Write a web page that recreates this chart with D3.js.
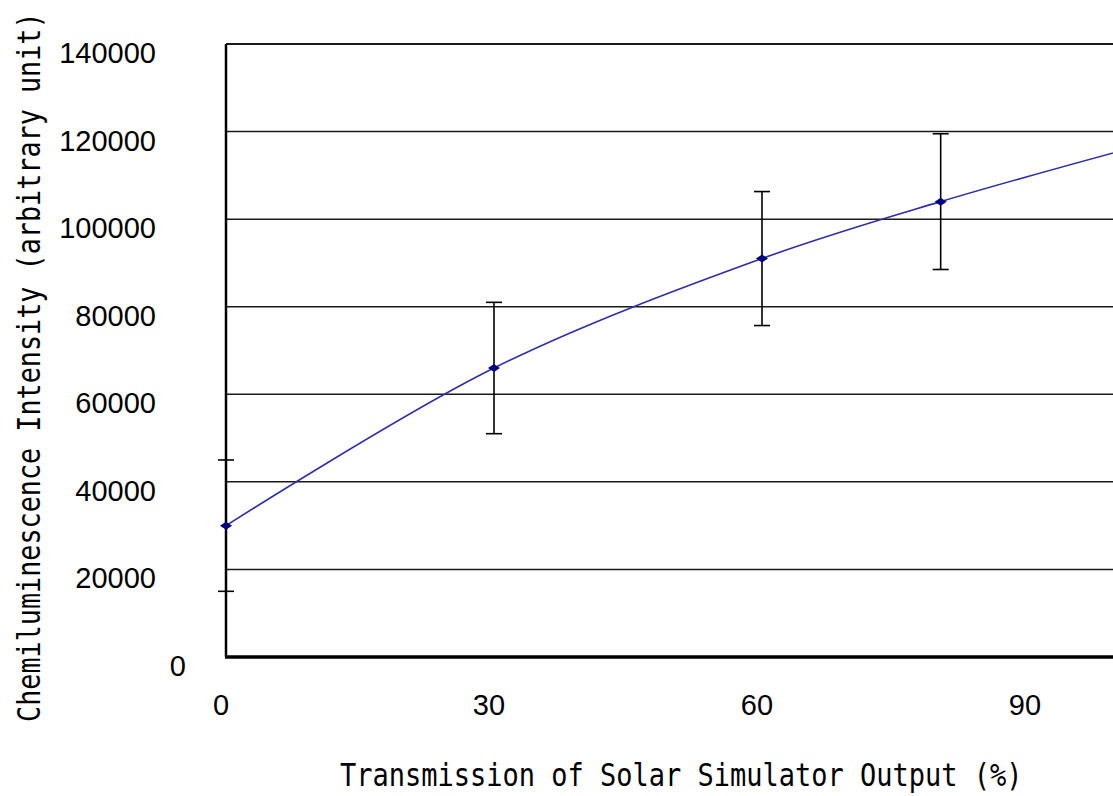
<!DOCTYPE html>
<html><head><meta charset="utf-8">
<script src="https://cdn.jsdelivr.net/npm/d3@7"></script>
<style>html,body{margin:0;padding:0;background:#fff;overflow:hidden}</style>
</head><body>
<svg id="c" width="1113" height="796"></svg>
<script>
const xValues = [0, 30, 60, 80, 100];
const yValues = [30000, 66000, 91000, 104000, 115500];
const yErrors = [15000, 15000, 15300, 15500, 15500];
const xTicks = [0, 30, 60, 90];
const yTicks = [0, 20000, 40000, 60000, 80000, 100000, 120000, 140000];
const xTitle = "Transmission of Solar Simulator Output (%)";
const yTitle = "Chemiluminescence Intensity (arbitrary unit)";

const W = 1113, H = 796;
const svg = d3.select("#c");
svg.append("rect").attr("width", W).attr("height", H).attr("fill", "#fff");

const x = d3.scaleLinear().domain([0, 90]).range([226, 1030]);
const y = d3.scaleLinear().domain([0, 140000]).range([657, 44]);

// gridlines
svg.append("g").selectAll("line").data(yTicks.filter(d => d > 0)).join("line")
  .attr("x1", x(0)).attr("x2", W)
  .attr("y1", d => y(d)).attr("y2", d => y(d))
  .attr("stroke", "#1a1a1a").attr("stroke-width", d => d === 140000 ? 2 : 1.5);

// y tick labels
svg.append("g").selectAll("text").data(yTicks).join("text")
  .attr("x", d => d === 0 ? 186 : 156)
  .attr("y", d => y(d) + 19)
  .attr("text-anchor", "end")
  .attr("font-family", "Liberation Sans, Arial, sans-serif")
  .attr("font-size", 29)
  .attr("fill", "#000")
  .text(d => d);

// x tick labels
svg.append("g").selectAll("text").data(xTicks).join("text")
  .attr("x", d => x(d) - 5)
  .attr("y", 715)
  .attr("text-anchor", "middle")
  .attr("font-family", "Liberation Sans, Arial, sans-serif")
  .attr("font-size", 29)
  .attr("fill", "#000")
  .text(d => d);

// axes lines
svg.append("line").attr("x1", x(0)).attr("x2", x(0)).attr("y1", y(140000)).attr("y2", y(0))
  .attr("stroke", "#000").attr("stroke-width", 2.5);
svg.append("line").attr("x1", x(0) - 1).attr("x2", W).attr("y1", y(0)).attr("y2", y(0))
  .attr("stroke", "#000").attr("stroke-width", 3.5);

const pts = xValues.map((v, i) => ({x: v, y: yValues[i], e: yErrors[i]}));
const visible = pts.filter(d => x(d.x) + 8 < W);

// error bars
const eb = svg.append("g").attr("stroke", "#000").attr("stroke-width", 1.6);
eb.selectAll(".v").data(visible).join("line").attr("class", "v")
  .attr("x1", d => x(d.x)).attr("x2", d => x(d.x))
  .attr("y1", d => y(d.y + d.e)).attr("y2", d => y(d.y - d.e));
eb.selectAll(".t").data(visible).join("line").attr("class", "t")
  .attr("x1", d => x(d.x) - 8).attr("x2", d => x(d.x) + 8)
  .attr("y1", d => y(d.y + d.e)).attr("y2", d => y(d.y + d.e));
eb.selectAll(".b").data(visible).join("line").attr("class", "b")
  .attr("x1", d => x(d.x) - 8).attr("x2", d => x(d.x) + 8)
  .attr("y1", d => y(d.y - d.e)).attr("y2", d => y(d.y - d.e));

// smoothed line
const line = d3.line().x(d => x(d.x)).y(d => y(d.y)).curve(d3.curveCatmullRom.alpha(0.5));
svg.append("path").datum(pts).attr("d", line)
  .attr("fill", "none").attr("stroke", "#2e2ea6").attr("stroke-width", 1.6);

// diamond markers
svg.append("g").selectAll("path").data(visible).join("path")
  .attr("transform", d => `translate(${x(d.x)},${y(d.y)})`)
  .attr("d", "M-6,0L0,-4L6,0L0,4Z")
  .attr("fill", "#000080");

// titles
svg.append("text")
  .attr("transform", "translate(340,786) scale(1,1.18)")
  .attr("font-family", "DejaVu Sans Mono, monospace")
  .attr("font-size", 27)
  .attr("fill", "#000")
  .text(xTitle);

svg.append("text")
  .attr("transform", "translate(40,722) rotate(-90) scale(1,1.18)")
  .attr("font-family", "DejaVu Sans Mono, monospace")
  .attr("font-size", 26.8)
  .attr("fill", "#000")
  .text(yTitle);
</script>
</body></html>
